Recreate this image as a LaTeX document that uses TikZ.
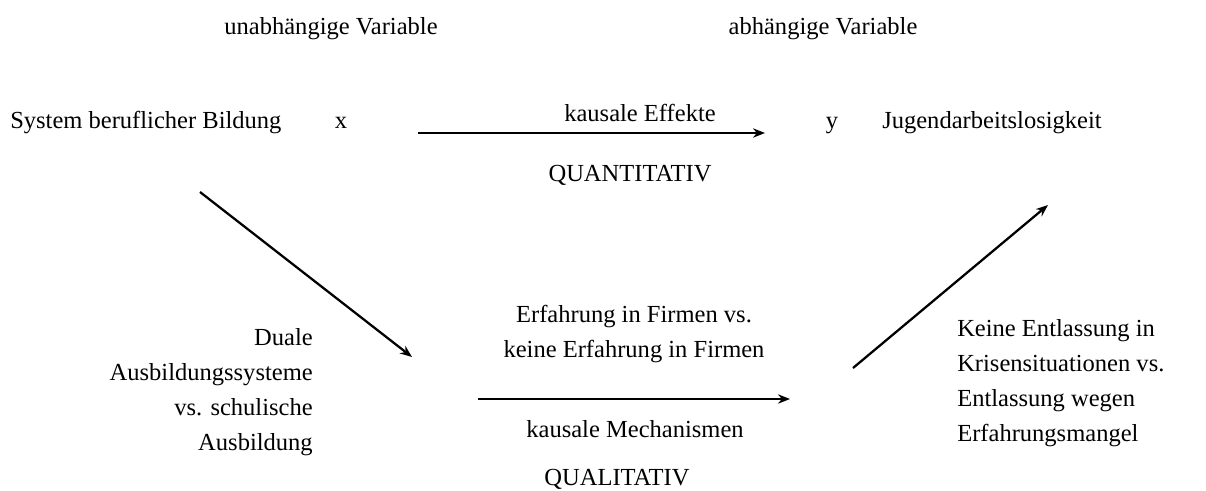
\documentclass[tikz,border=0pt]{standalone}
\usepackage{fontspec}
\setmainfont{Liberation Serif}
\usetikzlibrary{arrows.meta}
\tikzset{
  lbl/.style={inner sep=0pt, font=\fontsize{18.4}{26.2}\selectfont},
  arr/.style={-{Stealth[length=9pt,width=7pt]}, line width=1.7pt}
}
\begin{document}
\begin{tikzpicture}[x=0.75pt,y=-0.75pt]
\useasboundingbox (0,0) rectangle (1206,490);
% Kopfzeile
\node[lbl,anchor=base] (uv) at (331,34) {unabhängige Variable};
\node[lbl,anchor=base] (av) at (823,34) {abhängige Variable};
% quantitative Ebene
\node[lbl,anchor=base west] (sys) at (10,128) {System beruflicher Bildung};
\node[lbl,anchor=base] (x) at (341,128) {x};
\node[lbl,anchor=base] (y) at (832,128) {y};
\node[lbl,anchor=base west] (jal) at (882,128) {Jugendarbeitslosigkeit};
\coordinate (e1) at (418,133);
\coordinate (e2) at (765,133);
\draw[arr] (e1) -- (e2);
\node[lbl,anchor=base] (eff) at (640,121) {kausale Effekte};
\node[lbl,anchor=base] (quant) at (630,181) {QUANTITATIV};
% qualitative Ebene
\node[lbl,anchor=base east,align=right] (dual) at (313,450)
  {Duale\\Ausbildungssysteme\\vs. schulische\\Ausbildung};
\node[lbl,anchor=base,align=center] (erf) at (634,357)
  {Erfahrung in Firmen vs.\\keine Erfahrung in Firmen};
\coordinate (m1) at (478,399);
\coordinate (m2) at (790,399);
\draw[arr] (m1) -- (m2);
\node[lbl,anchor=base] (mech) at (635,437) {kausale Mechanismen};
\node[lbl,anchor=base] (qual) at (617,485) {QUALITATIV};
\node[lbl,anchor=base west,align=left] (entl) at (957,441)
  {Keine Entlassung in\\Krisensituationen vs.\\Entlassung wegen\\Erfahrungsmangel};
% Diagonalen
\coordinate (d1) at (200,192);
\coordinate (d2) at (412,357);
\coordinate (d3) at (853,368);
\coordinate (d4) at (1048,205);
\draw[arr] (d1) -- (d2);
\draw[arr] (d3) -- (d4);
\end{tikzpicture}
\end{document}
